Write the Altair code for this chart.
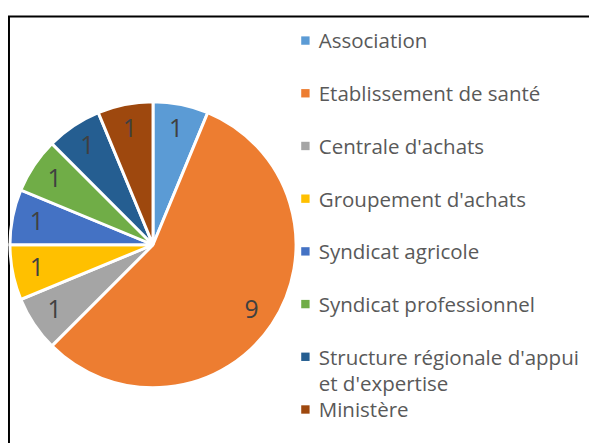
import altair as alt
import pandas as pd

categories = [
    "Association",
    "Etablissement de santé",
    "Centrale d'achats",
    "Groupement d'achats",
    "Syndicat agricole",
    "Syndicat professionnel",
    "Structure régionale d'appui et d'expertise",
    "Ministère",
]
legend_labels = [
    "Association",
    "Etablissement de santé",
    "Centrale d'achats",
    "Groupement d'achats",
    "Syndicat agricole",
    "Syndicat professionnel",
    "Structure régionale d'appui\net d'expertise",
    "Ministère",
]
values = [1, 9, 1, 1, 1, 1, 1, 1]
colors = ["#5B9BD5", "#ED7D31", "#A5A5A5", "#FFC000", "#4472C4", "#70AD47", "#255E91", "#9E480E"]

df = pd.DataFrame({
    "cat": categories,
    "label": legend_labels,
    "value": values,
    "idx": list(range(len(categories))),
})

FONT = "Open Sans"
W, H = 589, 438
CX, CY, R = 147, 237, 145

color = alt.Color("cat:N", scale=alt.Scale(domain=categories, range=colors), legend=None)

base = alt.Chart(df)

pie = base.mark_arc(outerRadius=R, stroke="white", strokeWidth=3).encode(
    theta=alt.Theta("value:Q", stack=True),
    order=alt.Order("idx:Q"),
    color=color,
    x=alt.value(CX),
    y=alt.value(CY),
)

pie_labels = base.mark_text(radius=120, font=FONT, fontSize=25, color="#404040").encode(
    theta=alt.Theta("value:Q", stack=True),
    order=alt.Order("idx:Q"),
    text=alt.Text("value:Q"),
    x=alt.value(CX),
    y=alt.value(CY),
)

yscale = alt.Scale(domain=categories, range=[30, 404], padding=0)

leg_sym = base.mark_square(size=72, opacity=1).encode(
    y=alt.Y("cat:N", scale=yscale, axis=None),
    x=alt.value(301.5),
    color=color,
)

leg_text = base.mark_text(
    align="left", baseline="alphabetic", dy=8, font=FONT, fontSize=20.8,
    color="#595959", lineBreak="\n", lineHeight=27,
).encode(
    y=alt.Y("cat:N", scale=yscale, axis=None),
    x=alt.value(315),
    text="label:N",
)

frame_data = alt.Data(values=[{"k": 1}])
frame_top = alt.Chart(frame_data).mark_rule(color="black", strokeWidth=2).encode(
    x=alt.value(0), x2=alt.value(W), y=alt.value(5.5)
)
frame_left = alt.Chart(frame_data).mark_rule(color="black", strokeWidth=2).encode(
    x=alt.value(1), y=alt.value(5.5), y2=alt.value(H)
)

chart = alt.layer(frame_top, frame_left, pie, pie_labels, leg_sym, leg_text).properties(
    width=W, height=H, padding=0, autosize=alt.AutoSizeParams(type="none"),
).configure_view(stroke=None)

chart.save("out.html", embed_options={"renderer": "svg", "actions": False})
